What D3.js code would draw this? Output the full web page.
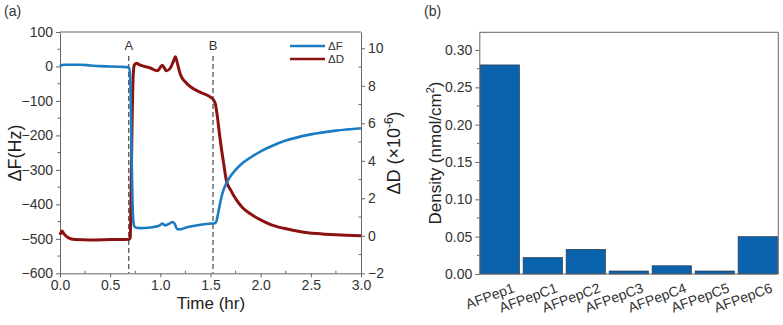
<!DOCTYPE html>
<html lang="en">
<head>
<meta charset="UTF-8">
<title>QCM-D and density</title>
<script src="https://d3js.org/d3.v7.min.js"></script>
<style>
    body { margin: 0; background: #fff; }
    svg { display: block; font-family: "Liberation Sans", Arial, sans-serif; }
    .tick text { fill: #333; }
</style>
</head>
<body>
<svg width="783" height="325"></svg>
<script>
// panel (a): QCM-D time traces
const timeF = [0, 0.02, 0.05, 0.1, 0.2, 0.3, 0.4, 0.5, 0.6, 0.67, 0.69, 0.7, 0.71, 0.72, 0.73, 0.74, 0.76, 0.8, 0.9, 0.98, 1.02, 1.05, 1.09, 1.12, 1.14, 1.17, 1.2, 1.25, 1.3, 1.4, 1.5, 1.54, 1.56, 1.58, 1.6, 1.63, 1.66, 1.7, 1.75, 1.8, 1.9, 2.0, 2.1, 2.25, 2.5, 2.75, 3.0];
const deltaF = [0, 4, 5, 5, 5, 3, 1, 0, -1, -2, -5, -40, -180, -360, -445, -463, -468, -469, -467, -463, -456, -461, -456, -451, -455, -472, -472, -468, -464, -459, -456, -455, -448, -420, -390, -358, -338, -318, -300, -285, -264, -246, -232, -215, -197, -186, -179];

const timeD = [0, 0.02, 0.04, 0.08, 0.15, 0.3, 0.5, 0.69, 0.7, 0.71, 0.72, 0.73, 0.74, 0.76, 0.8, 0.9, 0.97, 1.02, 1.06, 1.1, 1.13, 1.15, 1.17, 1.2, 1.25, 1.3, 1.4, 1.5, 1.53, 1.55, 1.57, 1.59, 1.61, 1.63, 1.66, 1.7, 1.76, 1.82, 1.89, 2.0, 2.1, 2.23, 2.4, 2.56, 2.75, 3.0];
const deltaD = [0.05, 0.25, 0.1, -0.1, -0.2, -0.22, -0.2, -0.18, -0.1, 3, 6.5, 8.6, 9.1, 9.2, 9.1, 8.95, 8.8, 9.1, 8.8, 8.95, 9.3, 9.55, 9.2, 8.6, 8.2, 7.95, 7.65, 7.4, 7.25, 7.0, 6.3, 5.4, 4.6, 3.9, 2.9, 2.45, 1.9, 1.5, 1.2, 0.85, 0.6, 0.4, 0.22, 0.12, 0.05, 0.0];

const markers = [{label: "A", t: 0.685}, {label: "B", t: 1.525}];

// panel (b): surface density
const peptides = ["AFPep1", "AFPepC1", "AFPepC2", "AFPepC3", "AFPepC4", "AFPepC5", "AFPepC6"];
const density = [0.280, 0.022, 0.033, 0.004, 0.011, 0.004, 0.050];

const blue = "#1b7cc3", red = "#8c1212", barColor = "#0a62ad", frame = "#666";

const svg = d3.select("svg");

// ---------- panel (a) ----------
const xA = d3.scaleLinear().domain([0, 3]).range([60, 361]);
const yF = d3.scaleLinear().domain([-600, 100]).range([273.3, 32]);
const yD = d3.scaleLinear().domain([-2, 10.87]).range([273.3, 32]);

const gA = svg.append("g");

function minorTicks(g, scale, vals, orient, len) {
    vals.forEach(v => {
        const p = scale(v);
        if (orient === "bottom") g.append("line").attr("x1", p).attr("x2", p).attr("y1", 0).attr("y2", -len);
        else g.append("line").attr("x1", 0).attr("x2", -len).attr("y1", p).attr("y2", p);
    });
    g.selectAll("line").attr("stroke", frame);
}

function styleAxis(g) {
    g.select(".domain").attr("stroke", frame);
    g.selectAll(".tick line").attr("stroke", frame);
    g.selectAll(".tick text").attr("font-size", 14);
}

const axB = gA.append("g").attr("transform", "translate(0,273.3)")
    .call(d3.axisBottom(xA).tickValues(d3.range(0, 3.01, 0.5)).tickFormat(d3.format(".1f")).tickSize(4).tickSizeOuter(0));
styleAxis(axB);
minorTicks(axB.append("g"), xA, d3.range(0.25, 3, 0.5), "bottom", 2.5);

const axL = gA.append("g").attr("transform", "translate(60,0)")
    .call(d3.axisLeft(yF).tickValues(d3.range(-600, 101, 100)).tickSize(4).tickSizeOuter(0));
styleAxis(axL);
minorTicks(axL.append("g"), yF, d3.range(-550, 100, 100), "left", 2.5);

const axR = gA.append("g").attr("transform", "translate(361,0)")
    .call(d3.axisRight(yD).tickValues(d3.range(-2, 10.1, 2)).tickSize(4).tickSizeOuter(0));
styleAxis(axR);
minorTicks(axR.append("g"), yD, d3.range(-1, 10.1, 2), "right", 2.5);

gA.append("line").attr("x1", 60).attr("x2", 361).attr("y1", 32).attr("y2", 32).attr("stroke", frame);

// marker lines
markers.forEach(m => {
    gA.append("line").attr("x1", xA(m.t)).attr("x2", xA(m.t)).attr("y1", 56).attr("y2", 273)
        .attr("stroke", "#555").attr("stroke-width", 1.3).attr("stroke-dasharray", "5,3");
    gA.append("text").attr("x", xA(m.t)).attr("y", 50).attr("text-anchor", "middle")
        .attr("font-size", 13).attr("fill", "#333").text(m.label);
});

const lineF = d3.line().x((d, i) => xA(timeF[i])).y(d => yF(d)).curve(d3.curveMonotoneX);
const lineD = d3.line().x((d, i) => xA(timeD[i])).y(d => yD(d)).curve(d3.curveMonotoneX);

gA.append("path").attr("d", lineD(deltaD)).attr("fill", "none").attr("stroke", red).attr("stroke-width", 3);
gA.append("path").attr("d", lineF(deltaF)).attr("fill", "none").attr("stroke", blue).attr("stroke-width", 2.6);

// legend
[{name: "\u0394F", c: blue, y: 46}, {name: "\u0394D", c: red, y: 59}].forEach(l => {
    gA.append("line").attr("x1", 290).attr("x2", 325).attr("y1", l.y).attr("y2", l.y).attr("stroke", l.c).attr("stroke-width", 2.5);
    gA.append("text").attr("x", 328).attr("y", l.y + 4).attr("font-size", 11.5).attr("fill", "#333").text(l.name);
});

gA.append("text").attr("x", 211).attr("y", 309).attr("text-anchor", "middle").attr("font-size", 17).attr("fill", "#222").text("Time (hr)");
gA.append("text").attr("transform", "translate(21,153) rotate(-90)").attr("text-anchor", "middle")
    .attr("font-size", 18).attr("fill", "#222").text("\u0394F(Hz)");
const rl = gA.append("text").attr("transform", "translate(400,153) rotate(-90)").attr("text-anchor", "middle")
    .attr("font-size", 18).attr("fill", "#222");
rl.append("tspan").text("\u0394D (\u00d710");
rl.append("tspan").attr("dy", -7).attr("font-size", 12).text("-6");
rl.append("tspan").attr("dy", 7).text(")");

svg.append("text").attr("x", 4).attr("y", 16).attr("font-size", 14).attr("fill", "#333").text("(a)");

// ---------- panel (b) ----------
const xB = d3.scaleBand().domain(peptides).range([479.3, 778.3]).paddingInner(0.086).paddingOuter(0.02);
const yB = d3.scaleLinear().domain([0, 0.3237]).range([274, 32.3]);

const gB = svg.append("g");

gB.selectAll("rect").data(density).join("rect")
    .attr("x", (d, i) => xB(peptides[i])).attr("width", xB.bandwidth())
    .attr("y", d => yB(d)).attr("height", d => yB(0) - yB(d))
    .attr("fill", barColor).attr("stroke", "#2a3a4a").attr("stroke-width", 0.7);

const bl = gB.append("g").attr("transform", "translate(479.3,0)")
    .call(d3.axisLeft(yB).tickValues(d3.range(0, 0.301, 0.05)).tickFormat(d3.format(".2f")).tickSize(4).tickSizeOuter(0));
styleAxis(bl);
const bm = bl.append("g");
d3.range(0.025, 0.32, 0.05).forEach(v => {
    bm.append("line").attr("x1", 0).attr("x2", -2.5).attr("y1", yB(v)).attr("y2", yB(v)).attr("stroke", frame);
});

gB.append("line").attr("x1", 479.3).attr("x2", 778.3).attr("y1", 274).attr("y2", 274).attr("stroke", frame);
gB.append("line").attr("x1", 479.3).attr("x2", 778.3).attr("y1", 32.3).attr("y2", 32.3).attr("stroke", frame);
gB.append("line").attr("x1", 778.3).attr("x2", 778.3).attr("y1", 32.3).attr("y2", 274).attr("stroke", frame);

gB.selectAll(".plabel").data(peptides).join("text").attr("class", "plabel")
    .attr("transform", d => `translate(${xB(d) + xB.bandwidth() / 2 + 12},${282}) rotate(-20)`)
    .attr("text-anchor", "end").attr("dy", "0.75em").attr("font-size", 14).attr("fill", "#333").text(d => d);

const dl = gB.append("text").attr("transform", "translate(441,153) rotate(-90)").attr("text-anchor", "middle")
    .attr("font-size", 17).attr("fill", "#222");
dl.append("tspan").text("Density (nmol/cm");
dl.append("tspan").attr("dy", -7).attr("font-size", 11).text("2");
dl.append("tspan").attr("dy", 7).text(")");

svg.append("text").attr("x", 424).attr("y", 16).attr("font-size", 14).attr("fill", "#333").text("(b)");
</script>
</body>
</html>
